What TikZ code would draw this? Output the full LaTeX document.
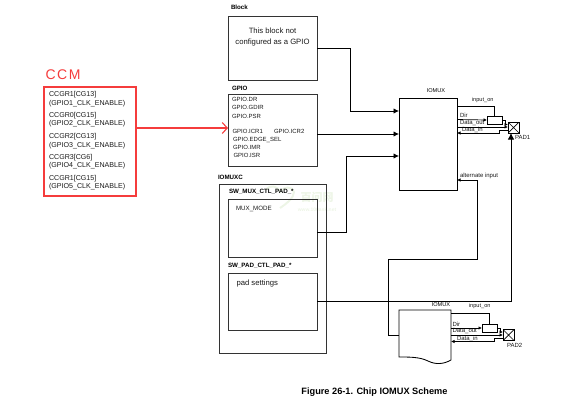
\documentclass[tikz,border=0pt]{standalone}
\usepackage{fontspec}
\setmainfont{Liberation Sans}
\newfontfamily\cjkfont{Noto Sans CJK SC}
\usepackage{tikz}
\usetikzlibrary{positioning,arrows.meta}

\definecolor{lineink}{HTML}{333333}
\definecolor{redink}{HTML}{F53C3C}
\definecolor{markink}{HTML}{EDF5E6}

\tikzset{
  boxnode/.style={draw=lineink,line width=0.85pt,inner sep=0pt,outer sep=0pt,anchor=north west},
  smalltext/.style={inner sep=0pt,outer sep=0pt,anchor=west,text=black!90,font=\fontsize{6}{7}\selectfont},
  midtext/.style={inner sep=0pt,outer sep=0pt,text=black!90,font=\fontsize{7.7}{11}\selectfont},
  titletext/.style={inner sep=0pt,outer sep=0pt,anchor=west,font=\fontsize{6.2}{7}\selectfont\bfseries},
  ccgrtext/.style={inner sep=0pt,outer sep=0pt,anchor=west,align=left,text=black!90,font=\fontsize{7.1}{8.4}\selectfont},
  bufnode/.style={draw=black,line width=0.9pt,inner sep=0pt,outer sep=0pt,minimum width=15pt,minimum height=8pt},
  padnode/.style={draw=black,line width=0.85pt,inner sep=0pt,outer sep=0pt,minimum size=11pt,
    path picture={\draw[line width=0.7pt] (path picture bounding box.north west) -- (path picture bounding box.south east)
      (path picture bounding box.north east) -- (path picture bounding box.south west);}},
  sigline/.style={draw=black,line width=0.85pt},
  bigarrow/.style={sigline,-{Latex[length=5.5pt,width=5.5pt]}},
  padarrow/.style={draw=black,line width=0.7pt,-{Latex[length=3.5pt,width=3.5pt]}},
  padline/.style={draw=black,line width=0.7pt}
}

\begin{document}
\begin{tikzpicture}[x=1pt,y=-1pt]
\useasboundingbox (0,0) rectangle (562,410);

% watermark
\draw[markink,line width=2pt] (266,190) .. controls (270,184) and (278,186) .. (280,192) .. controls (284,186) and (292,186) .. (294,192) .. controls (294,198) and (286,204) .. (280,208);
\node[markink,inner sep=0pt,font=\cjkfont\fontsize{11}{12}\selectfont\bfseries] (markcn) at (317,197) {百问网};
\node[markink,inner sep=0pt,font=\fontsize{5}{6}\selectfont\bfseries,below=5pt of markcn] (markurl) {www.100ask.net};

% CCM
\node[redink,inner sep=0pt,font=\fontsize{14}{15}\selectfont] (ccmlabel) at (63,75) {C\kern1.5pt C\kern1.5pt M};
\node[draw=redink,line width=1.1pt,inner sep=0pt,outer sep=0pt,anchor=north west,minimum width=92pt,minimum height=109pt] (ccm) at (44,87) {};
\node[ccgrtext] (ccgrA) at (49,99) {CCGR1[CG13]\\(GPIO1\_CLK\_ENABLE)};
\node[ccgrtext] (ccgrB) at (49,119.5) {CCGR0[CG15]\\(GPIO2\_CLK\_ENABLE)};
\node[ccgrtext] (ccgrC) at (49,141) {CCGR2[CG13]\\(GPIO3\_CLK\_ENABLE)};
\node[ccgrtext] (ccgrD) at (49,161.5) {CCGR3[CG6]\\(GPIO4\_CLK\_ENABLE)};
\node[ccgrtext] (ccgrE) at (49,182.5) {CCGR1[CG15]\\(GPIO5\_CLK\_ENABLE)};

% left column
\node[boxnode,minimum width=89pt,minimum height=64pt] (block) at (228,16) {};
\node[titletext] (blocktitle) at (231,7) {Block};
\node[midtext] (blocktext) at (272.5,31) {This block not};
\node[midtext] (blocktextb) at (272.5,42.5) {configured as a GPIO};

\node[boxnode,minimum width=89pt,minimum height=72pt] (gpio) at (228,94) {};
\node[titletext] (gpiotitle) at (232,88.5) {GPIO};
\node[smalltext] (gpioDR) at (232,99) {GPIO.DR};
\node[smalltext] (gpioGDIR) at (232,107.5) {GPIO.GDIR};
\node[smalltext] (gpioPSR) at (232,116) {GPIO.PSR};
\node[smalltext] (gpioICRa) at (232.5,131) {GPIO.ICR1};
\node[smalltext] (gpioICRb) at (274,131) {GPIO.ICR2};
\node[smalltext] (gpioEDGE) at (233,139.5) {GPIO.EDGE\_SEL};
\node[smalltext] (gpioIMR) at (233,147.5) {GPIO.IMR};
\node[smalltext] (gpioISR) at (233.5,155.5) {GPIO.ISR};

\node[boxnode,minimum width=107pt,minimum height=169pt] (iomuxc) at (219,184) {};
\node[titletext] (iomuxctitle) at (218,177.5) {IOMUXC};
\node[titletext] (muxtitle) at (229,192) {SW\_MUX\_CTL\_PAD\_*};
\node[boxnode,minimum width=89pt,minimum height=58pt] (muxbox) at (228,199) {};
\node[smalltext,font=\fontsize{6.2}{7}\selectfont] (muxtext) at (236,208.5) {MUX\_MODE};
\node[titletext] (padtitle) at (228,266) {SW\_PAD\_CTL\_PAD\_*};
\node[boxnode,minimum width=89pt,minimum height=57pt] (padset) at (228,273) {};
\node[midtext,anchor=west] (padtext) at (236.5,284) {pad settings};

% IOMUX and PAD1
\node[boxnode,draw=black,minimum width=58pt,minimum height=92pt] (iomuxA) at (399,98) {};
\node[inner sep=0pt,font=\fontsize{5.6}{6}\selectfont] (iomuxAtitle) at (436,91) {IOMUX};
\node[bufnode] (bufA) at (494.5,120) {};
\node[padnode] (padA) at (513.5,127.5) {};
\node[smalltext] (padAlabel) at (515,137.5) {PAD1};
\node[smalltext,font=\fontsize{5.6}{6}\selectfont] (onA) at (472,100) {input\_on};
\node[smalltext] (dirA) at (460,115.5) {Dir};
\node[smalltext] (outA) at (460,123) {Data\_out};
\node[smalltext] (inA) at (462,130) {Data\_in};
\node[smalltext] (altlabel) at (460,175.5) {alternate input};

\coordinate (inputa) at (399,111);
\coordinate (inputb) at (399,134);
\coordinate (inputc) at (399,156);
\coordinate (bendc) at (346,156);
\coordinate (bendb) at (350,111);
\coordinate (padAin) at (511,133);
\coordinate (altin) at (457,180);
\coordinate (alttop) at (477,259);
\coordinate (altleft) at (388,259);

\draw[bigarrow] (block.east) -- (bendb |- block.east) -- (bendb) -- (inputa);
\draw[bigarrow] (gpio.east |- inputb) -- (inputb);
\draw[bigarrow] (muxbox.east |- 0,232) -- (bendc |- 0,232) -- (bendc) -- (inputc);
\draw[bigarrow,-{Latex[length=6.5pt,width=6.5pt]}] (padset.east |- 0,301) -- (padAin |- 0,301) -- (padAin);

\coordinate (onAstart) at (457,106);
\coordinate (dirAstart) at (457,119.5);
\coordinate (outAstart) at (457,127);
\coordinate (inAstart) at (457,133);
\draw[padline] (onAstart) -| (bufA.north);
\draw[padarrow] (dirAstart) -- (bufA.west);
\draw[padarrow] (outAstart) -- (padA.west |- outAstart);
\draw[padarrow] (bufA.east) -- (505,120) -- (505,124.5) -- (padA.west |- 0,124.5);
\draw[padarrow] (padA.west |- 0,130) -- (499,130) -- (499,133) -- (inAstart);

% IOMUX 2 and PAD2
\draw[draw=black,line width=0.85pt,fill=white] (399,310) -- (451,310) -- (451,360) .. controls (444,364) and (436,365) .. (428,361) .. controls (420,357) and (410,357) .. (399,357) -- cycle;
\coordinate (altend) at (399,335);
\draw[sigline,-{Latex[length=3.5pt,width=3.5pt]}] (altend) -- (altleft |- altend) -- (altleft) -- (alttop) -- (alttop |- altin) -- (altin);

\node[inner sep=0pt,font=\fontsize{5.6}{6}\selectfont] (iomuxBtitle) at (441,305) {IOMUX};
\node[bufnode] (bufB) at (489.5,328) {};
\node[padnode] (padB) at (508.5,335) {};
\node[smalltext] (padBlabel) at (507,345.5) {PAD2};
\node[smalltext,font=\fontsize{5.6}{6}\selectfont] (onB) at (469,306.5) {input\_on};
\node[smalltext] (dirB) at (452.5,324.5) {Dir};
\node[smalltext] (outB) at (452.5,331) {Data\_out};
\node[smalltext] (inB) at (457,338.5) {Data\_in};

\coordinate (onBstart) at (451,313.5);
\coordinate (dirBstart) at (451,328);
\coordinate (outBstart) at (451,335);
\coordinate (inBstart) at (451,341.5);
\draw[padline] (onBstart) -| (bufB.north);
\draw[padarrow] (dirBstart) -- (bufB.west);
\draw[padarrow] (outBstart) -- (padB.west |- outBstart);
\draw[padarrow] (bufB.east) -- (500,328) -- (500,332) -- (padB.west |- 0,332);
\draw[padarrow] (padB.west |- 0,338) -- (494,338) -- (494,341.5) -- (inBstart);

% red link
\draw[draw=redink,line width=1.1pt,-{Straight Barb[length=5pt,width=11pt]}] (ccm.east |- 0,128) -- (gpio.west |- 0,128);

\node[inner sep=0pt,font=\fontsize{9.2}{10}\selectfont\bfseries] (caption) at (374.5,392) {Figure 26-1. Chip IOMUX Scheme};
\end{tikzpicture}
\end{document}
